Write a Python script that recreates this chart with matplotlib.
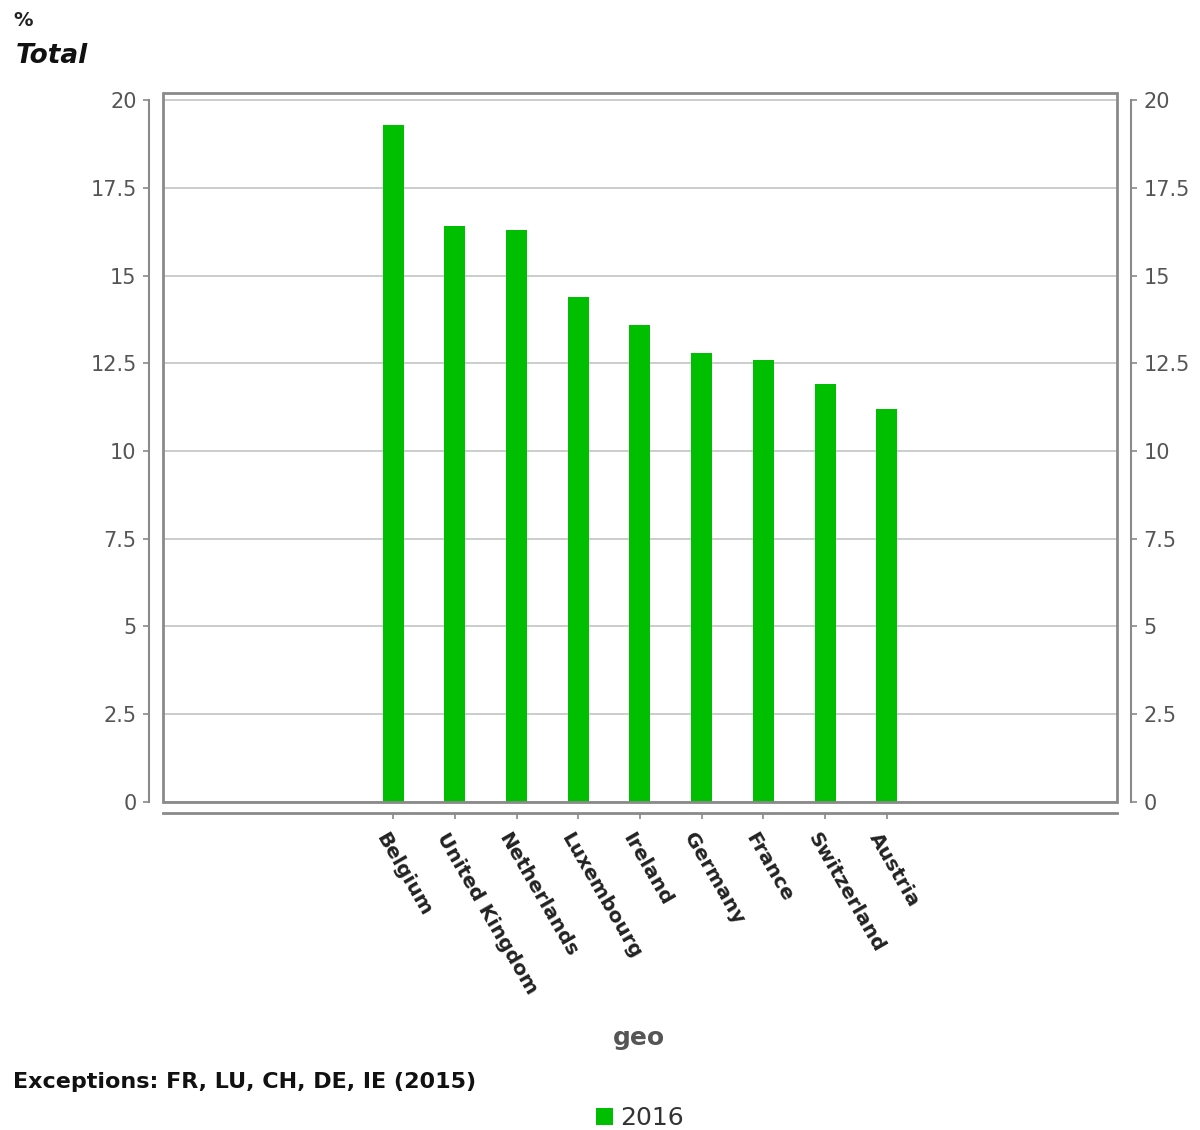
import matplotlib
matplotlib.use('Agg')
import matplotlib.pyplot as plt
import matplotlib.transforms as mtransforms
from matplotlib.patches import Rectangle

# data
countries = ['Belgium', 'United Kingdom', 'Netherlands', 'Luxembourg', 'Ireland',
             'Germany', 'France', 'Switzerland', 'Austria']
values_2016 = [19.3, 16.4, 16.3, 14.4, 13.6, 12.8, 12.6, 11.9, 11.2]
y_ticks = [0, 2.5, 5, 7.5, 10, 12.5, 15, 17.5, 20]
y_tick_labels = ['0', '2.5', '5', '7.5', '10', '12.5', '15', '17.5', '20']

GREEN = '#00bf00'
AXIS_GRAY = '#8a8a8a'
TEXT_GRAY = '#555555'

fig = plt.figure(figsize=(12, 11.3), dpi=100)
ax = fig.add_axes([0.1358, 0.2903, 0.795, 0.6274])

x = list(range(len(countries)))
ax.bar(x, values_2016, width=0.34, color=GREEN, zorder=3, label='2016')

ax.set_xlim(-3.73, len(countries) - 1 + 3.73)
ax.set_ylim(0, 20.2)

# grid
for t in y_ticks:
    ax.axhline(t, color='#c8c8c8', linewidth=1.3, zorder=1)

# inner frame box
ax.add_patch(Rectangle((0, 0), 1, 1, transform=ax.transAxes, fill=False,
                       edgecolor=AXIS_GRAY, linewidth=2, zorder=4, clip_on=False))

# offset axis lines
ax.spines['top'].set_visible(False)
for side in ['left', 'right']:
    ax.spines[side].set_position(('outward', 10))
    ax.spines[side].set_bounds(0, 20)
    ax.spines[side].set_color(AXIS_GRAY)
    ax.spines[side].set_linewidth(1.5)
ax.spines['bottom'].set_position(('outward', 8))
ax.spines['bottom'].set_color(AXIS_GRAY)
ax.spines['bottom'].set_linewidth(2)

ax.set_yticks(y_ticks)
ax.set_yticklabels(y_tick_labels)
ax.tick_params(axis='y', which='both', left=True, right=True, labelleft=True,
               labelright=True, length=4, width=1.2, color=AXIS_GRAY,
               labelcolor=TEXT_GRAY, labelsize=15, pad=5)

ax.set_xticks(x)
ax.set_xticklabels(countries, rotation=-60, ha='left', va='top',
                   rotation_mode='anchor', fontsize=14.5, fontweight='bold',
                   color='#222222')
ax.tick_params(axis='x', length=4, width=1.2, color=AXIS_GRAY, pad=8)
shift = mtransforms.ScaledTranslation(-5 / 100, 0, fig.dpi_scale_trans)
for lbl in ax.get_xticklabels():
    lbl.set_transform(lbl.get_transform() + shift)

# texts
fig.text(13 / 1200, 1 - 20 / 1130, '%', fontsize=14, fontweight='bold',
         color='#222222', va='center', ha='left')
fig.text(16 / 1200, 1 - 56 / 1130, 'Total', fontsize=19, fontweight='bold',
         fontstyle='italic', color='#111111', va='center', ha='left')
fig.text(639 / 1200, 1 - 1038 / 1130, 'geo', fontsize=18, fontweight='bold',
         color=TEXT_GRAY, va='center', ha='center')
fig.text(13 / 1200, 1 - 1082 / 1130, 'Exceptions: FR, LU, CH, DE, IE (2015)',
         fontsize=16, fontweight='bold', color='#111111', va='center', ha='left')

fig.legend(loc='center', bbox_to_anchor=(640 / 1200, 1 - 1118 / 1130),
           frameon=False, fontsize=18, handlelength=0.7, handleheight=0.7,
           handletextpad=0.3, labelcolor='#333333')

fig.savefig('out.png', dpi=100)
